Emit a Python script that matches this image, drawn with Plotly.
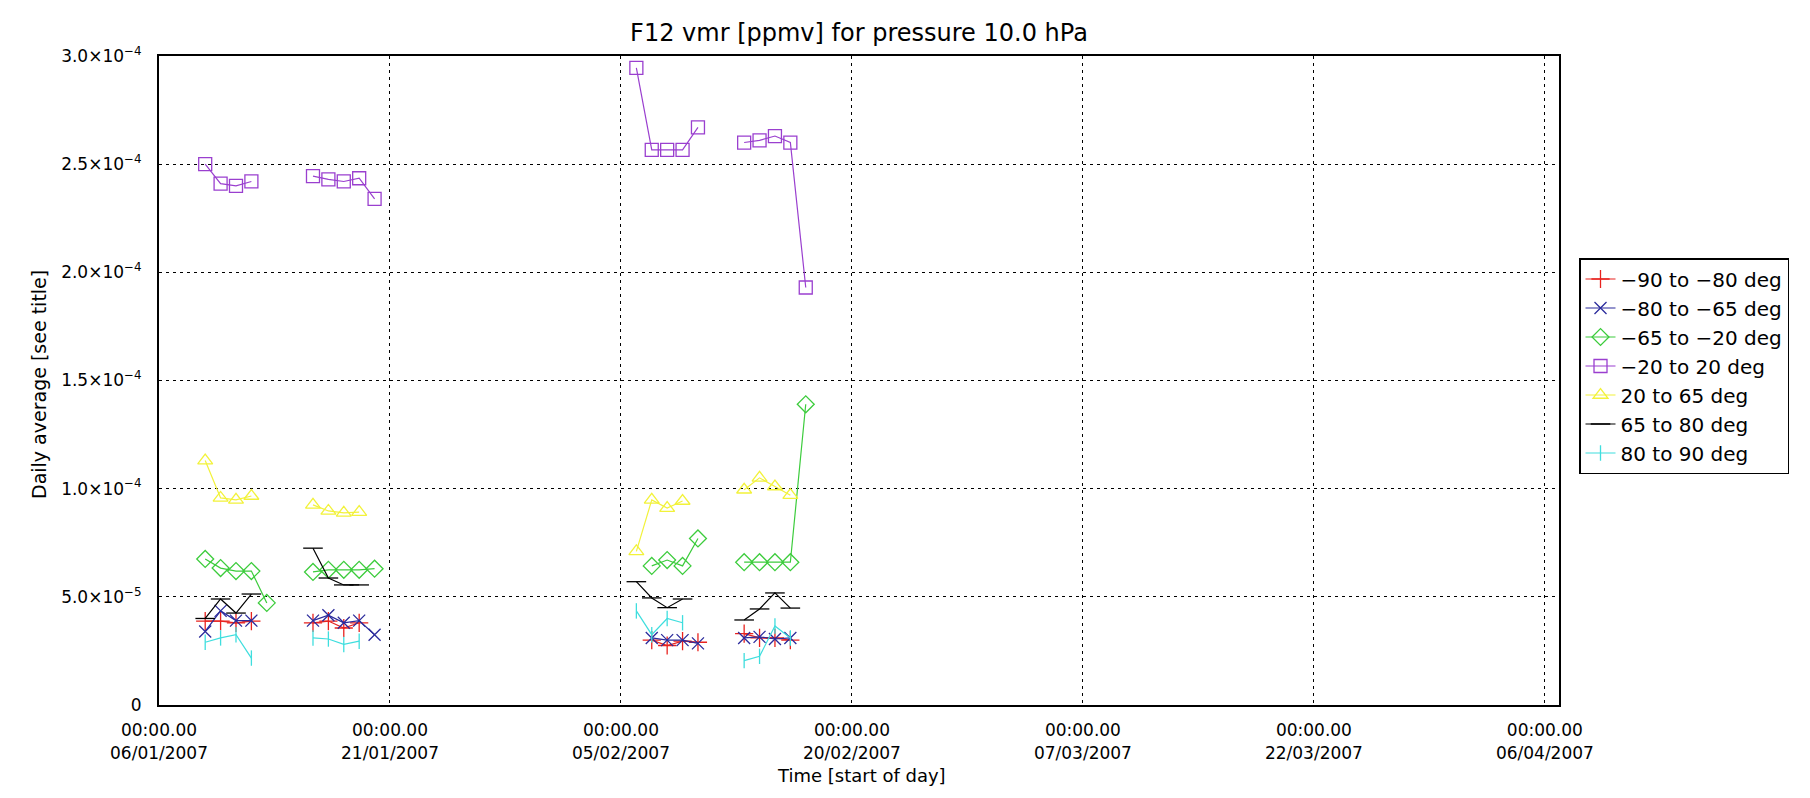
import plotly.graph_objects as go
from datetime import datetime

# ---------------- data ----------------
dates = [
    "2007-01-09", "2007-01-10", "2007-01-11", "2007-01-12", "2007-01-13",
    "2007-01-16", "2007-01-17", "2007-01-18", "2007-01-19", "2007-01-20",
    "2007-02-06", "2007-02-07", "2007-02-08", "2007-02-09", "2007-02-10",
    "2007-02-13", "2007-02-14", "2007-02-15", "2007-02-16", "2007-02-17",
]

lat_m90_m80 = [3.88e-5, 3.88e-5, 3.80e-5, 3.88e-5, None,
               3.80e-5, 3.88e-5, 3.56e-5, 3.80e-5, None,
               None, 3.00e-5, 2.75e-5, 2.95e-5, 2.90e-5,
               3.30e-5, 3.10e-5, 3.10e-5, 3.00e-5, None]
lat_m80_m65 = [3.40e-5, 4.35e-5, 3.90e-5, 3.90e-5, None,
               3.90e-5, 4.15e-5, 3.80e-5, 3.90e-5, 3.25e-5,
               None, 3.10e-5, 3.00e-5, 3.00e-5, 2.85e-5,
               3.10e-5, 3.15e-5, 3.05e-5, 3.10e-5, None]
lat_m65_m20 = [6.75e-5, 6.33e-5, 6.19e-5, 6.19e-5, 4.72e-5,
               6.15e-5, 6.25e-5, 6.25e-5, 6.25e-5, 6.30e-5,
               None, 6.43e-5, 6.70e-5, 6.43e-5, 7.70e-5,
               6.60e-5, 6.60e-5, 6.60e-5, 6.60e-5, 1.39e-4]
lat_m20_p20 = [2.50e-4, 2.41e-4, 2.40e-4, 2.42e-4, None,
               2.445e-4, 2.43e-4, 2.42e-4, 2.435e-4, 2.34e-4,
               2.945e-4, 2.566e-4, 2.566e-4, 2.566e-4, 2.67e-4,
               2.60e-4, 2.61e-4, 2.63e-4, 2.60e-4, 1.93e-4]
lat_p20_p65 = [1.13e-4, 9.57e-5, 9.48e-5, 9.66e-5, None,
               9.25e-5, 8.97e-5, 8.88e-5, 8.92e-5, None,
               7.10e-5, 9.48e-5, 9.10e-5, 9.43e-5, None,
               9.95e-5, 1.05e-4, 1.01e-4, 9.70e-5, None]
lat_p65_p80 = [4.00e-5, 4.90e-5, 4.25e-5, 5.13e-5, None,
               7.25e-5, 5.87e-5, 5.55e-5, 5.55e-5, None,
               5.70e-5, 4.95e-5, 4.50e-5, 4.90e-5, None,
               3.93e-5, 4.44e-5, 5.18e-5, 4.48e-5, None]
lat_p80_p90 = [2.90e-5, 3.10e-5, 3.25e-5, 2.17e-5, None,
               3.10e-5, 3.05e-5, 2.80e-5, 2.95e-5, None,
               4.35e-5, 3.25e-5, 4.00e-5, 3.80e-5, None,
               2.05e-5, 2.25e-5, 3.65e-5, 3.10e-5, None]

series_names = ["\u221290 to \u221280 deg", "\u221280 to \u221265 deg",
                "\u221265 to \u221220 deg", "\u221220 to 20 deg",
                "20 to 65 deg", "65 to 80 deg", "80 to 90 deg"]
series_values = [lat_m90_m80, lat_m80_m65, lat_m65_m20, lat_m20_p20,
                 lat_p20_p65, lat_p65_p80, lat_p80_p90]

x_tick_dates = ["2007-01-06", "2007-01-21", "2007-02-05", "2007-02-20",
                "2007-03-07", "2007-03-22", "2007-04-06"]
x_tick_text = ["00:00.00<br>06/01/2007", "00:00.00<br>21/01/2007",
               "00:00.00<br>05/02/2007", "00:00.00<br>20/02/2007",
               "00:00.00<br>07/03/2007", "00:00.00<br>22/03/2007",
               "00:00.00<br>06/04/2007"]
y_tick_vals = [0, 5.0e-5, 1.0e-4, 1.5e-4, 2.0e-4, 2.5e-4, 3.0e-4]
y_tick_text = ["0", "5.0\u00d710<sup>\u22125</sup>", "1.0\u00d710<sup>\u22124</sup>",
               "1.5\u00d710<sup>\u22124</sup>", "2.0\u00d710<sup>\u22124</sup>",
               "2.5\u00d710<sup>\u22124</sup>", "3.0\u00d710<sup>\u22124</sup>"]

# ---------------- styles ----------------
colors = ["#e8231f", "#2b2b9c", "#3ccc3c", "#9a3fcf", "#f2f23a", "#000000", "#3fdede"]
symbols = ["cross-thin-open", "x-thin-open", "diamond-open", "square-open",
           "triangle-up-open", "line-ew-open", "line-ns-open"]
sizes = [13, 12, 13, 13, 13, 14, 11]

L, R, T, B = 151, 1551, 48, 697
W, H = 1810, 798


def with_gaps(xs, ys):
    ox, oy = [], []
    prev = None
    for xv, yv in zip(xs, ys):
        d = datetime.strptime(xv, "%Y-%m-%d")
        if prev is not None and (d - prev).days > 2:
            ox.append(None)
            oy.append(None)
        ox.append(xv)
        oy.append(yv)
        prev = d
    return ox, oy


fig = go.Figure()
for i, (name, vals) in enumerate(zip(series_names, series_values)):
    xs, ys = with_gaps(dates, vals)
    fig.add_trace(go.Scatter(
        x=xs, y=ys, name=name, mode="lines+markers",
        legendgroup=name,
        line=dict(color=colors[i], width=1.2),
        marker=dict(symbol=symbols[i], size=sizes[i], color=colors[i],
                    line=dict(color=colors[i], width=1.3)),
        connectgaps=False,
    ))

font_family = "DejaVu Sans, Liberation Sans, sans-serif"

fig.update_layout(
    width=W, height=H,
    paper_bgcolor="white", plot_bgcolor="white",
    margin=dict(l=L, r=W - R, t=T, b=H - B, autoexpand=False),
    font=dict(family=font_family, color="black", size=15),
    title=dict(text="F12 vmr [ppmv] for pressure 10.0 hPa",
               x=(L + R) / 2 / W, xanchor="center",
               y=1 - 25 / H, yanchor="middle",
               font=dict(size=24, family=font_family, color="black")),
    showlegend=True,
    legend=dict(x=(1571 - L) / (R - L), xanchor="left",
                y=(B - 358) / (B - T), yanchor="middle",
                bordercolor="black", borderwidth=1.5, bgcolor="white",
                font=dict(size=20, family=font_family, color="black"),
                tracegroupgap=0, itemwidth=30),
)

fig.update_xaxes(
    type="date",
    range=["2007-01-06", "2007-04-06 22:00"],
    tickmode="array", tickvals=x_tick_dates, ticktext=x_tick_text,
    showgrid=True, gridcolor="black", gridwidth=1.3, griddash="3px,4px",
    showline=True, linecolor="black", linewidth=2, mirror=True,
    ticks="", zeroline=False, automargin=False,
    tickfont=dict(size=17, family=font_family, color="black"),
    ticklabelstandoff=9,
)
fig.update_yaxes(
    range=[0, 3.0e-4],
    tickmode="array", tickvals=y_tick_vals, ticktext=y_tick_text,
    showgrid=True, gridcolor="black", gridwidth=1.3, griddash="3px,4px",
    showline=True, linecolor="black", linewidth=2, mirror=True,
    ticks="", zeroline=False, automargin=False,
    tickfont=dict(size=17, family=font_family, color="black"),
    ticklabelstandoff=12,
)

fig.add_annotation(
    text="Daily average [see title]", xref="paper", yref="paper",
    x=(31 - L) / (R - L), y=(B - 377) / (B - T),
    xanchor="center", yanchor="middle", textangle=-90, showarrow=False,
    font=dict(size=19, family=font_family, color="black"),
)
fig.add_annotation(
    text="Time [start of day]", xref="paper", yref="paper",
    x=(853 - L) / (R - L), y=(B - 768) / (B - T),
    xanchor="center", yanchor="middle", showarrow=False,
    font=dict(size=18, family=font_family, color="black"),
)

fig.write_html("out.html")
